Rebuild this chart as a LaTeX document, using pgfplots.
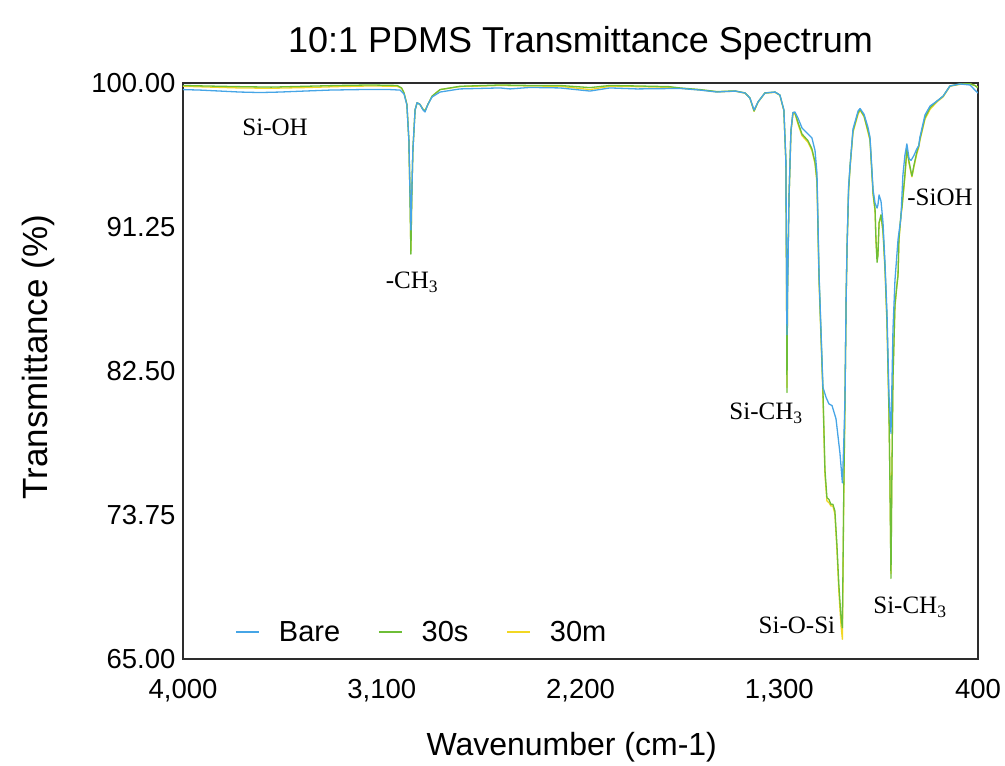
\documentclass[border=0pt]{standalone}
\usepackage{pgfplots}
\pgfplotsset{compat=1.18}
\usepackage{fontspec}
\setmainfont{Liberation Sans}
\newfontfamily\annfont{Liberation Serif}
\definecolor{cbare}{RGB}{70,165,230}
\definecolor{cthirtys}{RGB}{110,190,55}
\definecolor{cthirtym}{RGB}{242,215,35}
\definecolor{axgray}{RGB}{45,45,45}

\pgfplotstableread{
wn T
4000 99.60
3923 99.57
3832 99.51
3742 99.45
3651 99.42
3561 99.45
3470 99.50
3334 99.57
3199 99.60
3063 99.60
3017 99.57
2999 99.33
2986 98.66
2977 96.50
2968 91.07
2959 95.90
2949 98.36
2940 98.80
2927 98.70
2913 98.36
2904 98.24
2891 98.70
2872 99.15
2836 99.45
2746 99.64
2565 99.70
2519 99.64
2429 99.73
2293 99.70
2157 99.51
2067 99.70
1944 99.64
1749 99.67
1659 99.57
1582 99.45
1500 99.51
1455 99.39
1433 99.09
1414 98.36
1396 98.85
1365 99.39
1319 99.45
1297 99.27
1279 98.36
1270 95.30
1265 84.70
1256 92.90
1247 97.10
1238 98.20
1229 98.24
1215 97.87
1197 97.27
1170 96.90
1152 96.66
1138 95.90
1129 94.50
1120 88.50
1102 81.50
1088 80.90
1075 80.50
1061 80.40
1043 79.60
1025 77.50
1014 75.70
1008 78.00
1002 81.00
997 87.00
993 90.00
986 93.70
979 95.00
966 97.20
943 98.30
934 98.45
916 98.10
898 97.30
889 96.70
875 93.50
866 92.70
857 92.40
853 92.60
848 93.20
839 92.80
830 91.50
821 89.00
812 86.00
803 81.00
794 78.70
785 85.00
776 88.00
762 90.50
749 91.80
740 94.40
731 95.60
722 96.30
712 95.40
703 95.30
690 95.60
677 96.00
668 96.20
663 96.70
640 98.06
617 98.60
586 98.90
558 99.20
527 99.82
482 99.94
436 99.88
414 99.57
400 99.39
}\bare

\pgfplotstableread{
wn T
4000 99.85
3900 99.82
3750 99.78
3600 99.75
3450 99.80
3300 99.85
3150 99.88
3030 99.85
3010 99.70
2999 99.40
2986 98.70
2977 96.50
2972 93.00
2968 89.60
2964 93.00
2959 95.90
2949 98.36
2940 98.80
2927 98.70
2913 98.40
2904 98.30
2891 98.70
2872 99.20
2836 99.60
2746 99.80
2565 99.88
2429 99.85
2293 99.85
2157 99.72
2067 99.85
1944 99.82
1800 99.78
1749 99.70
1659 99.60
1582 99.48
1500 99.52
1455 99.40
1433 99.10
1414 98.30
1396 98.85
1365 99.40
1319 99.45
1297 99.27
1279 98.36
1270 95.30
1267 88.00
1265 81.20
1262 88.00
1256 92.90
1247 97.10
1238 98.20
1229 98.20
1215 97.60
1197 96.90
1170 96.50
1152 96.00
1138 95.20
1129 94.10
1120 88.30
1102 81.30
1093 76.50
1084 74.80
1075 74.70
1066 74.40
1057 74.40
1048 74.00
1039 72.00
1030 69.50
1020 67.50
1014 66.90
1008 75.00
1002 81.00
997 87.00
993 90.00
986 93.50
979 95.00
966 97.10
943 98.20
934 98.40
916 98.00
898 97.10
889 96.60
875 93.30
866 92.30
862 90.50
857 89.10
853 89.50
848 91.50
839 92.00
830 91.00
821 88.80
812 85.50
803 80.00
799 76.00
794 69.90
790 76.00
785 82.00
776 86.50
767 87.70
762 88.30
758 90.50
749 92.00
744 92.50
731 94.40
722 96.00
712 95.20
703 94.60
699 94.35
690 95.00
677 95.80
668 96.20
663 96.60
640 97.90
617 98.50
586 98.90
558 99.20
527 99.82
482 99.94
436 99.95
414 99.85
400 99.70
}\thirtys

\pgfplotstableread{
wn T
4000 99.80
3900 99.76
3750 99.70
3600 99.68
3450 99.72
3300 99.78
3150 99.82
3030 99.80
3010 99.68
2999 99.40
2986 98.70
2977 96.50
2972 93.00
2968 89.80
2964 93.00
2959 95.90
2949 98.36
2940 98.80
2927 98.70
2913 98.40
2904 98.30
2891 98.70
2872 99.20
2836 99.60
2746 99.78
2565 99.85
2429 99.82
2293 99.80
2157 99.60
2067 99.80
1944 99.78
1800 99.74
1749 99.68
1659 99.58
1582 99.46
1500 99.50
1455 99.38
1433 99.08
1414 98.28
1396 98.83
1365 99.38
1319 99.43
1297 99.25
1279 98.30
1270 95.20
1267 88.00
1265 81.50
1262 88.00
1256 92.80
1247 97.00
1238 98.10
1229 98.15
1215 97.50
1197 96.80
1170 96.40
1152 95.90
1138 95.10
1129 93.90
1120 88.00
1102 81.00
1093 76.20
1084 74.60
1075 74.50
1066 74.30
1057 74.30
1048 73.80
1039 71.70
1030 69.10
1020 67.00
1014 66.20
1008 74.50
1002 80.80
997 86.80
993 89.90
986 93.40
979 94.90
966 97.00
943 98.10
934 98.35
916 97.95
898 97.00
889 96.50
875 93.20
866 92.20
862 90.40
857 89.30
853 89.60
848 91.50
839 91.90
830 90.90
821 88.60
812 85.30
803 79.80
799 76.20
794 70.20
790 76.20
785 82.00
776 86.40
767 87.80
762 88.40
758 90.40
749 91.90
744 92.40
731 94.30
722 95.90
712 95.10
703 94.50
699 94.30
690 94.90
677 95.70
668 96.10
663 96.50
640 97.80
617 98.40
586 98.85
558 99.15
527 99.80
482 99.92
436 99.95
414 99.85
400 99.75
}\thirtym

\begin{document}
\begin{tikzpicture}
\useasboundingbox (-183pt,-107pt) rectangle (822pt,659pt);
\begin{axis}[
  scale only axis, width=795pt, height=576pt,
  x dir=reverse, xmin=400, xmax=4000, ymin=65, ymax=100,
  xtick={400,1300,2200,3100,4000},
  ytick={65,73.75,82.5,91.25,100},
  /pgf/number format/assume math mode=true,
  xticklabel style={/pgf/number format/1000 sep={,}, anchor=base, yshift=-39pt},
  yticklabel style={/pgf/number format/.cd, fixed, fixed zerofill, precision=2, 1000 sep={}, /tikz/.cd, xshift=-4pt},
  tick label style={font=\fontsize{27.5}{32}\selectfont},
  tick style={draw=none},
  axis line style={axgray, line width=1.5pt},
  title={10:1 PDMS Transmittance Spectrum},
  title style={font=\fontsize{36}{42}\selectfont, at={(axis description cs:0.5,1.042)}, anchor=base},
  xlabel={Wavenumber (cm-1)},
  xlabel style={font=\fontsize{32}{38}\selectfont, at={(axis description cs:0.489,-0.168)}, anchor=base},
  ylabel={Transmittance (\%)},
  ylabel style={font=\fontsize{35}{40}\selectfont, at={(axis description cs:-0.170,0.524)}, anchor=base},
  legend columns=3,
  legend style={draw=none, fill=none, font=\fontsize{29}{34}\selectfont,
    at={(axis description cs:0.062,0.047)}, anchor=west,
    /tikz/every odd column/.append style={column sep=17pt},
    /tikz/every even column/.append style={column sep=36pt}},
  legend image code/.code={\draw[#1, line width=1.5pt] (0pt,0pt) -- (23pt,0pt);},
  every axis plot/.append style={line width=1.3pt, line join=round},
]
\addlegendimage{cbare}
\addlegendentry{Bare}
\addlegendimage{cthirtys}
\addlegendentry{30s}
\addlegendimage{cthirtym}
\addlegendentry{30m}
\addplot[cthirtym, forget plot] table[x=wn,y=T] {\thirtym};
\addplot[cthirtys, forget plot] table[x=wn,y=T] {\thirtys};
\addplot[cbare, forget plot] table[x=wn,y=T] {\bare};
\begin{scope}[every node/.style={font=\annfont\fontsize{25}{30}\selectfont}]
\node at (axis cs:3583,97.33) {Si-OH};
\node at (axis cs:2963,87.9) {-CH\textsubscript{3}};
\node at (axis cs:1360,79.95) {Si-CH\textsubscript{3}};
\node at (axis cs:1220,67.07) {Si-O-Si};
\node at (axis cs:708,68.16) {Si-CH\textsubscript{3}};
\node at (axis cs:572,93.07) {-SiOH};
\end{scope}
\end{axis}
\end{tikzpicture}
\end{document}
